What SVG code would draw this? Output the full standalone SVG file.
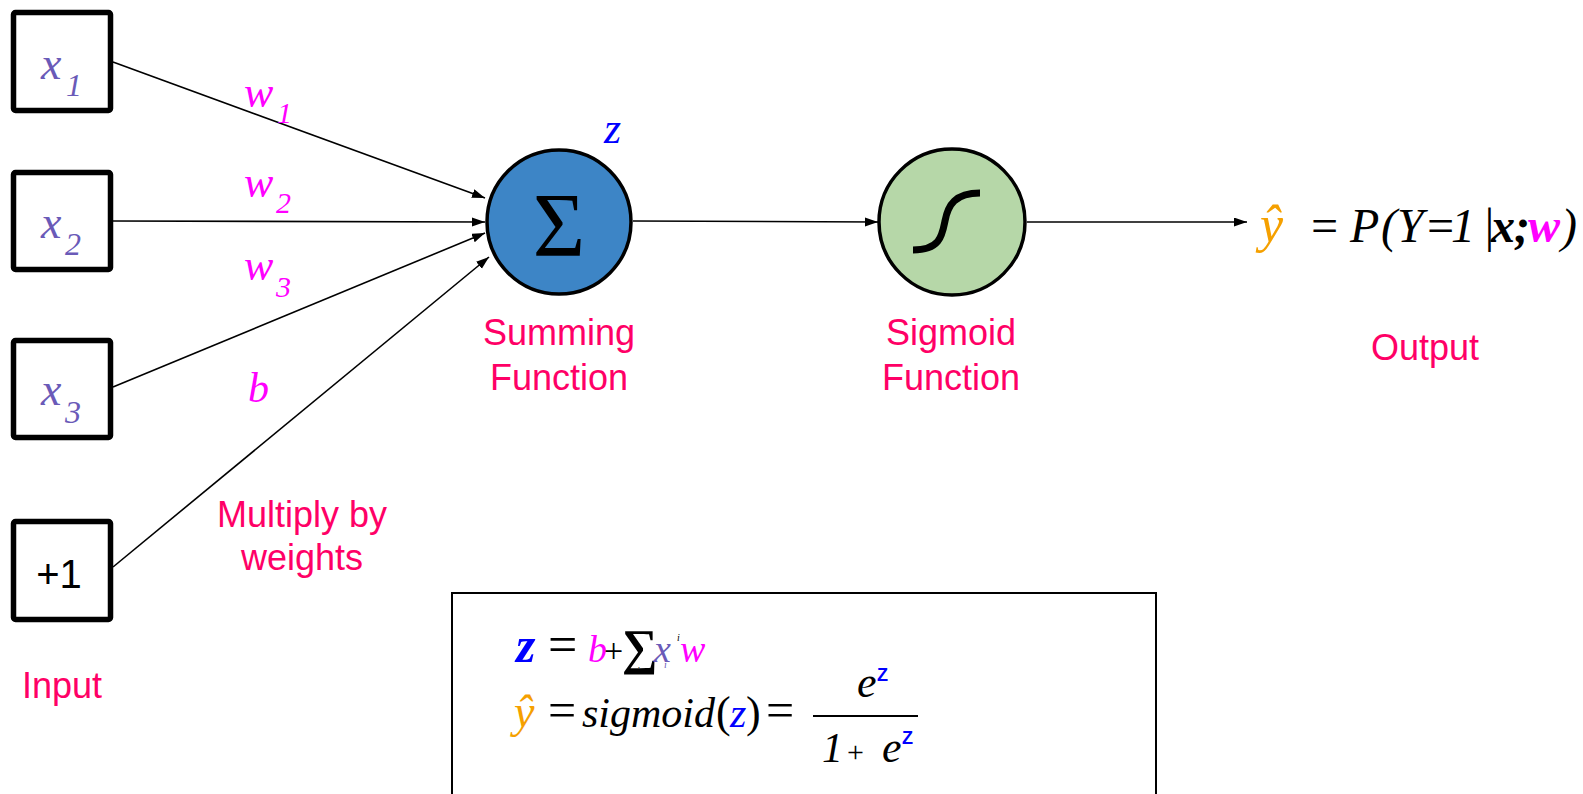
<svg xmlns="http://www.w3.org/2000/svg" width="1583" height="794" viewBox="0 0 1583 794">
<style>
.box{fill:#fff;stroke:#000;stroke-width:5.5;stroke-linejoin:round}
.lbl{font-family:"Liberation Sans",Arial,sans-serif;font-size:36px;fill:#ff0066;text-anchor:middle}
.m{font-family:"Liberation Serif","Times New Roman",serif;font-style:italic}
.r{font-family:"Liberation Serif","Times New Roman",serif}
.xv{fill:#6a5ab8}
.wv{fill:#ff00ff}
.zv{fill:#0000ff}
.yv{fill:#f5a000}
.edge{stroke:#000;stroke-width:1.6;fill:none;marker-end:url(#ah)}
</style>
<defs>
<marker id="ah" markerUnits="userSpaceOnUse" markerWidth="14" markerHeight="10" refX="13" refY="4.5" orient="auto">
<path d="M0,0 L13,4.5 L0,9 z" fill="#000"/>
</marker>
</defs>

<g id="connectors">
<line class="edge" x1="113" y1="62" x2="485" y2="198"/>
<line class="edge" x1="113" y1="221" x2="485" y2="222"/>
<line class="edge" x1="113" y1="387" x2="485" y2="233"/>
<line class="edge" x1="113" y1="567" x2="489" y2="257"/>
<line class="edge" x1="633" y1="221" x2="878" y2="222"/>
<line class="edge" x1="1027" y1="222" x2="1247" y2="222"/>
</g>

<g id="x1">
<rect class="box" x="13.5" y="12.5" width="97" height="98" rx="2"/>
<text class="m xv" x="41" y="79" font-size="46">x</text>
<text class="m xv" x="66" y="96" font-size="32">1</text>
</g>
<g id="x2">
<rect class="box" x="13.5" y="172.5" width="97" height="97" rx="2"/>
<text class="m xv" x="41" y="238" font-size="46">x</text>
<text class="m xv" x="65" y="255" font-size="32">2</text>
</g>
<g id="x3">
<rect class="box" x="13.5" y="340.5" width="97" height="97" rx="2"/>
<text class="m xv" x="41" y="405" font-size="46">x</text>
<text class="m xv" x="65" y="423" font-size="32">3</text>
</g>
<g id="bias">
<rect class="box" x="13.5" y="521.5" width="97" height="98" rx="2"/>
<text x="59" y="588" font-family="Liberation Sans,Arial,sans-serif" font-size="40" text-anchor="middle" fill="#000">+1</text>
</g>

<g id="weights">
<text class="m wv" x="244" y="107" font-size="44">w</text>
<text class="m wv" x="277" y="123" font-size="30">1</text>
<text class="m wv" x="244" y="197" font-size="44">w</text>
<text class="m wv" x="276" y="213" font-size="30">2</text>
<text class="m wv" x="244" y="280" font-size="44">w</text>
<text class="m wv" x="276" y="297" font-size="30">3</text>
<text class="m wv" x="248" y="402" font-size="42">b</text>
<text class="lbl" x="302" y="527">Multiply by</text>
<text class="lbl" x="302" y="570">weights</text>
</g>

<g id="input-label">
<text class="lbl" x="62" y="698">Input</text>
</g>

<g id="sum">
<circle cx="559" cy="222" r="72" fill="#3d85c6" stroke="#000" stroke-width="3.5"/>
<text class="r" x="559" y="256" font-size="90" text-anchor="middle" fill="#000">Σ</text>
<text class="m zv" x="604" y="143" font-size="44">z</text>
<text class="lbl" x="559" y="345">Summing</text>
<text class="lbl" x="559" y="390">Function</text>
</g>

<g id="sigmoid">
<circle cx="952" cy="222" r="73" fill="#b6d7a8" stroke="#000" stroke-width="3.5"/>
<path d="M913,250 C940,250 942,236 945,221 C948,205 955,193 980,193" fill="none" stroke="#000" stroke-width="7"/>
<text class="lbl" x="951" y="345">Sigmoid</text>
<text class="lbl" x="951" y="390">Function</text>
</g>

<g id="output">
<text class="m" y="242" font-size="48" fill="#000"><tspan class="yv" x="1260" font-size="52">ŷ</tspan><tspan class="r" x="1308">=</tspan><tspan x="1350">P</tspan><tspan x="1381">(</tspan><tspan x="1397">Y</tspan><tspan x="1424">=</tspan><tspan x="1451">1</tspan><tspan x="1482">|</tspan><tspan x="1491" font-weight="bold">x</tspan><tspan x="1514" font-weight="bold">;</tspan><tspan class="wv" x="1528" font-weight="bold">w</tspan><tspan x="1561">)</tspan></text>
<text class="lbl" x="1425" y="360">Output</text>
</g>

<g id="formula">
<rect x="452" y="593" width="704" height="220" fill="#fff" stroke="#000" stroke-width="2"/>
<text class="m zv" x="516" y="662" font-size="50" font-weight="bold">z</text>
<text class="r" x="548" y="662" font-size="52" fill="#000">=</text>
<text class="m wv" x="588" y="662" font-size="38">b</text>
<text class="r" x="604" y="662" font-size="34" fill="#000">+</text>
<text class="r" x="622" y="664" font-size="50" font-weight="bold" fill="#000">∑</text>
<text class="m" x="637" y="674" font-size="10" fill="#000">i</text>
<text class="m xv" y="662" font-size="38"><tspan x="654">x</tspan><tspan x="664" y="668" font-size="10">i</tspan></text>
<text class="m" x="677" y="641" font-size="10" fill="#000">i</text>
<text class="m wv" x="680" y="662" font-size="38">w</text>
<text class="m yv" x="514" y="727" font-size="46">ŷ</text>
<text class="r" x="548" y="727" font-size="50" fill="#000">=</text>
<text class="m" x="582" y="727" font-size="42" fill="#000">sigmoid</text>
<text class="r" x="716" y="727" font-size="44" fill="#000">(</text>
<text class="m zv" x="730" y="727" font-size="42">z</text>
<text class="r" x="746" y="727" font-size="44" fill="#000">)</text>
<text class="r" x="766" y="727" font-size="50" fill="#000">=</text>
<text class="m" x="857" y="697" font-size="44" fill="#000">e</text>
<text x="877" y="681" font-family="Liberation Sans,Arial,sans-serif" font-size="18" font-weight="bold" fill="#0000ff">Z</text>
<line x1="813" y1="716" x2="918" y2="716" stroke="#000" stroke-width="2"/>
<text class="m" x="822" y="762" font-size="42" fill="#000">1</text>
<text class="r" x="847" y="762" font-size="30" fill="#000">+</text>
<text class="m" x="882" y="762" font-size="44" fill="#000">e</text>
<text x="902" y="744" font-family="Liberation Sans,Arial,sans-serif" font-size="18" font-weight="bold" fill="#0000ff">Z</text>
</g>
</svg>
